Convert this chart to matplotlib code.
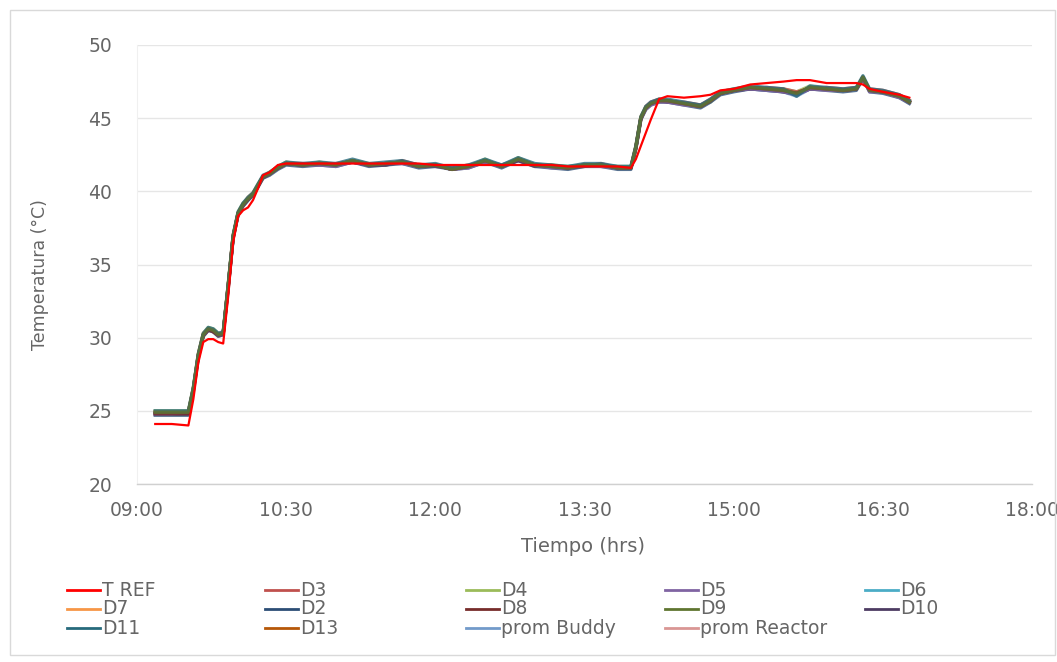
import matplotlib
matplotlib.use("Agg")
import matplotlib.pyplot as plt
from matplotlib.ticker import FixedLocator, FuncFormatter
from matplotlib.lines import Line2D
from matplotlib.patches import Rectangle

# ---------------- data ----------------
times = ["09:11","09:21","09:31","09:34","09:37","09:40","09:43","09:46","09:49","09:52",
         "09:55","09:58","10:01","10:04","10:07","10:10","10:13","10:16","10:20","10:25","10:30",
         "10:40","10:50","11:00","11:10","11:20","11:30","11:40","11:50","12:00","12:10",
         "12:20","12:30","12:40","12:50","13:00","13:10","13:20","13:30","13:40","13:50",
         "13:58","14:01","14:04","14:07","14:10","14:15","14:20","14:30","14:40","14:46",
         "14:52","15:00","15:10","15:20","15:30","15:38","15:46","15:56","16:06","16:14",
         "16:18","16:22","16:30","16:40","16:46"]

t_ref = [24.1,24.1,24.0,25.8,28.3,29.7,29.9,29.9,29.7,29.6,32.8,36.5,38.3,38.7,38.9,39.4,40.2,41.1,41.3,41.8,41.9,
         41.9,41.9,41.9,41.9,41.9,41.9,41.9,41.9,41.8,41.8,41.8,41.8,41.8,41.8,41.8,41.8,41.7,41.7,41.7,41.7,
         41.6,42.2,43.1,44.0,44.9,46.3,46.5,46.4,46.5,46.6,46.9,47.0,47.3,47.4,47.5,47.6,47.6,47.4,47.4,47.4,47.3,47.0,46.8,46.6,46.4]

d3 = [24.8,24.8,24.8,26.4,28.7,30.1,30.5,30.4,30.1,30.2,33.4,36.8,38.4,39.0,39.4,39.8,40.3,40.9,41.2,41.6,41.9,
      41.9,41.8,41.9,42.0,41.8,41.8,42.1,41.8,41.7,41.6,41.8,42.0,41.8,42.1,41.7,41.8,41.6,41.7,41.9,41.6,
      41.6,42.9,44.9,45.8,46.1,46.3,46.1,46.1,45.9,46.3,46.8,46.9,47.0,47.1,47.0,46.8,47.0,47.1,47.0,47.1,47.6,47.0,46.9,46.6,46.2]
d4 = [25.0,25.0,25.0,26.6,28.9,30.3,30.7,30.6,30.3,30.3,33.6,37.0,38.6,39.2,39.5,39.9,40.5,41.0,41.3,41.7,42.0,
      41.8,42.0,41.8,42.1,41.9,41.8,42.0,41.8,41.8,41.6,41.7,42.2,41.7,42.3,41.8,41.8,41.7,41.8,41.8,41.7,
      41.7,43.1,45.1,45.8,46.0,46.3,46.2,46.0,45.9,46.1,46.8,47.0,47.1,47.0,47.0,46.8,47.2,47.0,46.9,47.1,47.7,46.9,46.8,46.5,46.2]
d5 = [24.8,24.8,24.9,26.5,28.8,30.2,30.6,30.5,30.2,30.3,33.5,36.9,38.5,39.1,39.5,39.8,40.4,41.0,41.2,41.6,41.9,
      41.8,41.8,41.7,42.0,41.8,41.9,41.9,41.7,41.8,41.5,41.6,42.0,41.7,42.2,41.8,41.6,41.6,41.8,41.7,41.6,
      41.6,43.0,45.0,45.6,45.9,46.1,46.1,45.9,45.8,46.2,46.7,46.9,47.0,46.9,46.8,46.6,47.0,46.9,46.9,47.0,47.7,46.8,46.8,46.4,46.1]
d6 = [24.9,24.9,24.9,26.5,28.8,30.2,30.6,30.5,30.2,30.3,33.4,36.8,38.4,39.0,39.4,39.8,40.3,41.0,41.2,41.6,41.9,
      41.9,41.9,41.8,42.1,41.8,41.9,42.0,41.8,41.8,41.6,41.7,42.1,41.8,42.2,41.8,41.7,41.7,41.8,41.8,41.7,
      41.7,43.0,45.0,45.7,46.0,46.2,46.2,46.0,45.9,46.2,46.7,46.9,47.1,47.0,46.9,46.6,47.1,47.0,46.9,47.0,47.8,46.9,46.8,46.5,46.1]
d7 = [24.9,24.9,24.9,26.6,28.9,30.3,30.6,30.5,30.2,30.4,33.6,37.0,38.5,39.1,39.6,39.9,40.4,41.0,41.3,41.6,41.9,
      41.8,41.9,41.8,42.0,41.8,41.9,42.0,41.7,41.8,41.6,41.7,42.1,41.7,42.2,41.8,41.7,41.6,41.8,41.8,41.6,
      41.6,43.1,45.1,45.7,46.0,46.2,46.2,46.0,45.8,46.2,46.7,46.9,47.1,47.0,46.9,46.7,47.1,47.0,46.9,47.0,47.8,46.9,46.8,46.5,46.2]
d2 = [24.7,24.7,24.7,26.3,28.6,30.1,30.5,30.4,30.1,30.2,33.3,36.8,38.4,39.0,39.4,39.7,40.3,40.9,41.1,41.5,41.8,
      41.7,41.8,41.7,42.0,41.7,41.8,41.9,41.6,41.7,41.5,41.6,42.0,41.6,42.1,41.7,41.6,41.5,41.7,41.7,41.5,
      41.5,42.9,44.9,45.6,45.9,46.1,46.1,45.9,45.7,46.1,46.6,46.8,47.0,46.9,46.8,46.6,47.0,46.9,46.8,46.9,47.7,46.8,46.7,46.4,46.0]
d8 = [24.8,24.8,24.8,26.4,28.7,30.2,30.6,30.4,30.2,30.3,33.5,36.9,38.5,39.1,39.5,39.8,40.4,41.0,41.2,41.6,41.9,
      41.8,41.9,41.8,42.1,41.8,41.9,42.0,41.7,41.8,41.5,41.7,42.1,41.7,42.2,41.8,41.7,41.6,41.8,41.8,41.6,
      41.6,43.0,45.0,45.7,46.0,46.2,46.2,46.0,45.8,46.2,46.7,46.9,47.1,47.0,46.9,46.7,47.1,47.0,46.9,47.0,47.8,46.9,46.8,46.5,46.1]
d9 = [24.9,24.9,24.9,26.5,28.8,30.2,30.6,30.5,30.2,30.3,33.5,36.9,38.5,39.1,39.5,39.8,40.4,41.0,41.2,41.6,41.9,
      41.8,41.9,41.8,42.1,41.8,41.9,42.0,41.7,41.8,41.5,41.7,42.1,41.7,42.2,41.8,41.7,41.6,41.8,41.8,41.6,
      41.6,43.0,45.0,45.7,46.0,46.2,46.2,46.0,45.8,46.2,46.7,46.9,47.1,47.0,46.9,46.7,47.1,47.0,46.9,47.0,47.8,46.9,46.8,46.5,46.1]
d10 = [24.8,24.8,24.8,26.5,28.8,30.2,30.5,30.5,30.2,30.3,33.5,36.9,38.5,39.1,39.5,39.8,40.4,41.0,41.2,41.6,41.9,
       41.8,41.9,41.8,42.0,41.8,41.8,42.0,41.7,41.8,41.5,41.7,42.1,41.7,42.1,41.8,41.7,41.6,41.8,41.8,41.6,
       41.6,43.0,45.0,45.7,46.0,46.2,46.1,46.0,45.8,46.2,46.7,46.9,47.0,47.0,46.8,46.7,47.0,47.0,46.9,47.0,47.7,46.9,46.8,46.5,46.1]
d11 = [25.0,25.0,25.0,26.6,28.9,30.3,30.7,30.6,30.3,30.4,33.6,37.0,38.6,39.2,39.6,39.9,40.5,41.1,41.3,41.7,42.0,
       41.9,42.0,41.9,42.2,41.9,42.0,42.1,41.8,41.9,41.6,41.8,42.2,41.8,42.3,41.9,41.8,41.7,41.9,41.9,41.7,
       41.7,43.1,45.1,45.8,46.1,46.3,46.3,46.1,45.9,46.3,46.8,47.0,47.2,47.1,47.0,46.5,47.2,47.1,47.0,47.1,47.9,47.0,46.9,46.6,46.2]
d13 = [24.9,24.9,24.9,26.5,28.8,30.2,30.6,30.5,30.2,30.3,33.5,36.9,38.5,39.1,39.5,39.8,40.4,41.0,41.2,41.6,41.9,
       41.8,41.9,41.8,42.1,41.8,41.9,42.0,41.7,41.8,41.5,41.7,42.1,41.7,42.2,41.8,41.7,41.6,41.8,41.8,41.6,
       41.6,43.0,45.0,45.7,46.0,46.2,46.2,46.0,45.8,46.2,46.7,46.9,47.1,47.0,46.9,46.7,47.1,47.0,46.9,47.0,47.8,46.9,46.8,46.5,46.1]
prom_buddy = [24.9,24.9,24.9,26.5,28.8,30.2,30.6,30.5,30.2,30.3,33.5,36.9,38.5,39.1,39.5,39.8,40.4,41.0,41.2,41.6,41.9,
              41.8,41.9,41.8,42.0,41.8,41.9,42.0,41.7,41.8,41.6,41.7,42.1,41.7,42.2,41.8,41.7,41.6,41.8,41.8,41.6,
              41.6,43.0,45.0,45.7,46.0,46.2,46.2,46.0,45.8,46.2,46.7,46.9,47.0,46.9,46.8,46.5,47.0,47.0,46.9,47.0,47.7,46.9,46.8,46.5,46.1]
prom_reactor = [24.9,24.9,24.9,26.5,28.8,30.2,30.6,30.5,30.2,30.3,33.5,36.9,38.5,39.1,39.5,39.8,40.4,41.0,41.2,41.6,41.9,
                41.8,41.9,41.8,42.1,41.8,41.9,42.0,41.7,41.8,41.5,41.7,42.1,41.7,42.2,41.8,41.7,41.6,41.8,41.8,41.6,
                41.6,43.0,45.0,45.7,46.0,46.2,46.2,46.0,45.8,46.2,46.7,46.9,47.1,47.0,46.9,46.7,47.1,47.0,46.9,47.0,47.8,46.9,46.8,46.5,46.1]

series_names = ["T REF", "D3", "D4", "D5", "D6", "D7", "D2", "D8", "D9", "D10",
                "D11", "D13", "prom Buddy", "prom Reactor"]
series_values = [t_ref, d3, d4, d5, d6, d7, d2, d8, d9, d10, d11, d13, prom_buddy, prom_reactor]
series_colors = ["#FF0000", "#C0504D", "#9BBB59", "#8064A2", "#4BACC6", "#F79646",
                 "#2C4D75", "#772C2A", "#5F7530", "#4D3B62", "#276A7C", "#B65708",
                 "#729ACA", "#D99694"]
# drawing order (higher = on top)
series_z = [20, 5, 4, 9, 3, 4, 6, 10, 12, 7, 11, 4, 2, 2]

x_ticks = [9.0, 10.5, 12.0, 13.5, 15.0, 16.5, 18.0]
y_ticks = [20, 25, 30, 35, 40, 45, 50]

def to_hours(s):
    h, m = s.split(":")
    return int(h) + int(m) / 60.0

x = [to_hours(s) for s in times]

# ---------------- figure ----------------
W, H = 1057, 662
fig = plt.figure(figsize=(W / 100, H / 100), dpi=100)
fig.patch.set_facecolor("white")
fig.add_artist(Rectangle((10 / W, 1 - 655 / H), 1045 / W, 645 / H, transform=fig.transFigure,
                         facecolor="none", edgecolor="#d9d9d9", lw=1.0))

ax = fig.add_axes([137 / W, 1 - 484 / H, (1032 - 137) / W, (484 - 45) / H])
ax.set_xlim(9, 18)
ax.set_ylim(20, 50)

gray = "#666666"
for name, vals, col, z in zip(series_names, series_values, series_colors, series_z):
    lw = 1.6 if name == "T REF" else 2.4
    ax.plot(x, vals, color=col, lw=lw, zorder=z, solid_joinstyle="round",
            alpha=1.0 if name == "T REF" else 0.8)

ax.xaxis.set_major_locator(FixedLocator(x_ticks))
ax.yaxis.set_major_locator(FixedLocator(y_ticks))
ax.xaxis.set_major_formatter(FuncFormatter(lambda v, p: "%02d:%02d" % (int(v), int(round((v - int(v)) * 60)))))
ax.yaxis.set_major_formatter(FuncFormatter(lambda v, p: "%d" % v))
ax.tick_params(axis="both", length=0, colors=gray, labelsize=13.5)
ax.tick_params(axis="y", pad=18)
ax.tick_params(axis="x", pad=12)
ax.grid(axis="y", color="#e6e6e6", lw=1.0, zorder=0)
ax.set_axisbelow(True)
for s in ["top", "right"]:
    ax.spines[s].set_visible(False)
ax.spines["left"].set_color("#f0f0f0")
ax.spines["bottom"].set_color("#d0d0d0")
ax.spines["bottom"].set_linewidth(1.0)

fig.text(583 / W, 1 - 547 / H, "Tiempo (hrs)", ha="center", va="center", fontsize=14, color=gray)
fig.text(40 / W, 1 - 275 / H, "Temperatura (°C)", ha="center", va="center", rotation=90,
         fontsize=12.5, color=gray)

# ---------------- legend (row-major, 5 columns) ----------------
col_line_x = [67, 265, 466, 665, 865]
row_y = [590, 609, 628]
for i, (name, col) in enumerate(zip(series_names, series_colors)):
    r, c = divmod(i, 5)
    lx = col_line_x[c]
    yy = 1 - row_y[r] / H
    fig.add_artist(Line2D([lx / W, (lx + 33) / W], [yy, yy], transform=fig.transFigure,
                          color=col, lw=2.0))
    fig.text((lx + 35) / W, yy, name, ha="left", va="center", fontsize=13.5, color=gray)

fig.savefig("out.png", dpi=100, facecolor="white")
